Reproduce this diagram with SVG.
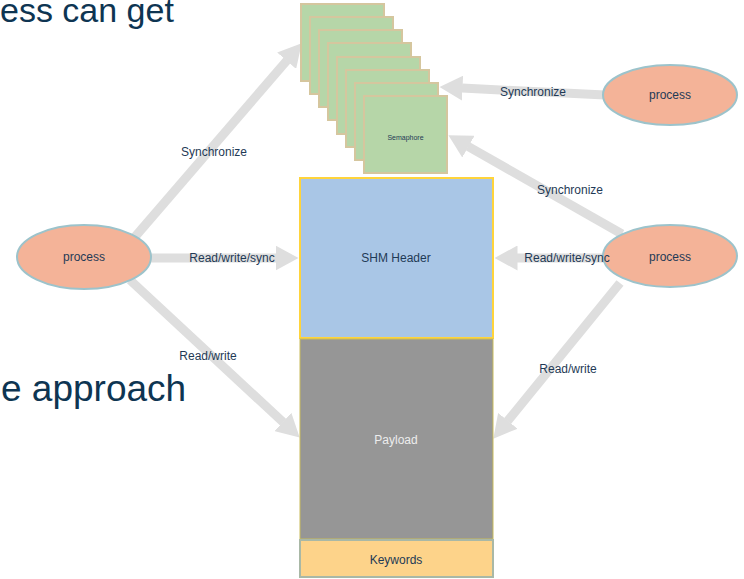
<svg xmlns="http://www.w3.org/2000/svg" width="744" height="579" viewBox="0 0 744 579">
  <style>
    .title { font-family: "Liberation Sans", Arial, sans-serif; fill: #0E3552; }
    .lbl { font-family: "Liberation Sans", Arial, sans-serif; font-size: 12px; fill: #1F3A56; text-anchor: middle; }
    .proc { fill: #F4B398; stroke: #9CC3CB; stroke-width: 2; }
    .sem { fill: #B6D6A8; stroke: #D5C69E; stroke-width: 2; }
    .conn { stroke: #DEDEDE; stroke-width: 9; fill: none; marker-end: url(#head); }
  </style>
  <defs>
    <marker id="head" markerUnits="userSpaceOnUse" markerWidth="23" markerHeight="25" viewBox="0 -12.5 23 25" refX="0.5" refY="0" orient="auto">
      <path d="M0,-12.5 L23,0 L0,12.5 z" fill="#DEDEDE"/>
    </marker>
  </defs>

  <rect width="744" height="579" fill="#FFFFFF"/>

  <!-- slide title fragments behind the diagram -->
  <text class="title" x="0" y="22" font-size="34">ess can get</text>
  <text class="title" x="1" y="401" font-size="37">e approach</text>

  <!-- connectors -->
  <g id="connectors">
    <line class="conn" x1="134" y1="238" x2="287" y2="60.4"/>
    <line class="conn" x1="150" y1="258" x2="276" y2="258"/>
    <line class="conn" x1="130" y1="280" x2="283.2" y2="422.3"/>
    <line class="conn" x1="605" y1="95" x2="462" y2="88.1"/>
    <line class="conn" x1="622" y1="234" x2="468" y2="146.4"/>
    <line class="conn" x1="606" y1="258" x2="517" y2="258"/>
    <line class="conn" x1="620" y1="283" x2="507.5" y2="421.2"/>
  </g>

  <!-- semaphore stack -->
  <g id="semaphore">
    <rect class="sem" x="301" y="4" width="83" height="77"/>
    <rect class="sem" x="310" y="17" width="83" height="77"/>
    <rect class="sem" x="319" y="30" width="83" height="77"/>
    <rect class="sem" x="328" y="43" width="83" height="77"/>
    <rect class="sem" x="337" y="57" width="83" height="77"/>
    <rect class="sem" x="346" y="70" width="83" height="77"/>
    <rect class="sem" x="355" y="83" width="83" height="77"/>
    <rect class="sem" x="364" y="96" width="83" height="77"/>
    <text x="405.5" y="139.5" font-family="Liberation Sans, Arial, sans-serif" font-size="7" fill="#1F3A56" text-anchor="middle">Semaphore</text>
  </g>

  <!-- shared memory segment -->
  <g id="shm-header">
    <rect x="300" y="178" width="193" height="160" fill="#A9C6E6" stroke="#FFD43B" stroke-width="2"/>
    <text class="lbl" x="396" y="262">SHM Header</text>
  </g>
  <g id="payload">
    <rect x="300" y="339" width="193" height="200" fill="#969696" stroke="#C9BC5A" stroke-width="1"/>
    <text class="lbl" x="396" y="444" style="fill:#EDEDED">Payload</text>
  </g>
  <g id="keywords">
    <rect x="300" y="540" width="193" height="37" fill="#FDD38A" stroke="#A9B8A6" stroke-width="2"/>
    <text class="lbl" x="396" y="564">Keywords</text>
  </g>

  <!-- processes -->
  <g id="process-left">
    <ellipse class="proc" cx="84" cy="257" rx="67" ry="32"/>
    <text class="lbl" x="84" y="261">process</text>
  </g>
  <g id="process-top-right">
    <ellipse class="proc" cx="670" cy="95" rx="67" ry="30"/>
    <text class="lbl" x="670" y="99">process</text>
  </g>
  <g id="process-right">
    <ellipse class="proc" cx="670" cy="256" rx="67" ry="31"/>
    <text class="lbl" x="670" y="261">process</text>
  </g>

  <!-- connector labels -->
  <g id="connector-labels">
    <text class="lbl" x="214" y="156">Synchronize</text>
    <text class="lbl" x="232" y="262">Read/write/sync</text>
    <text class="lbl" x="208" y="360">Read/write</text>
    <text class="lbl" x="533" y="96">Synchronize</text>
    <text class="lbl" x="570" y="194">Synchronize</text>
    <text class="lbl" x="567" y="262">Read/write/sync</text>
    <text class="lbl" x="568" y="373">Read/write</text>
  </g>
</svg>
